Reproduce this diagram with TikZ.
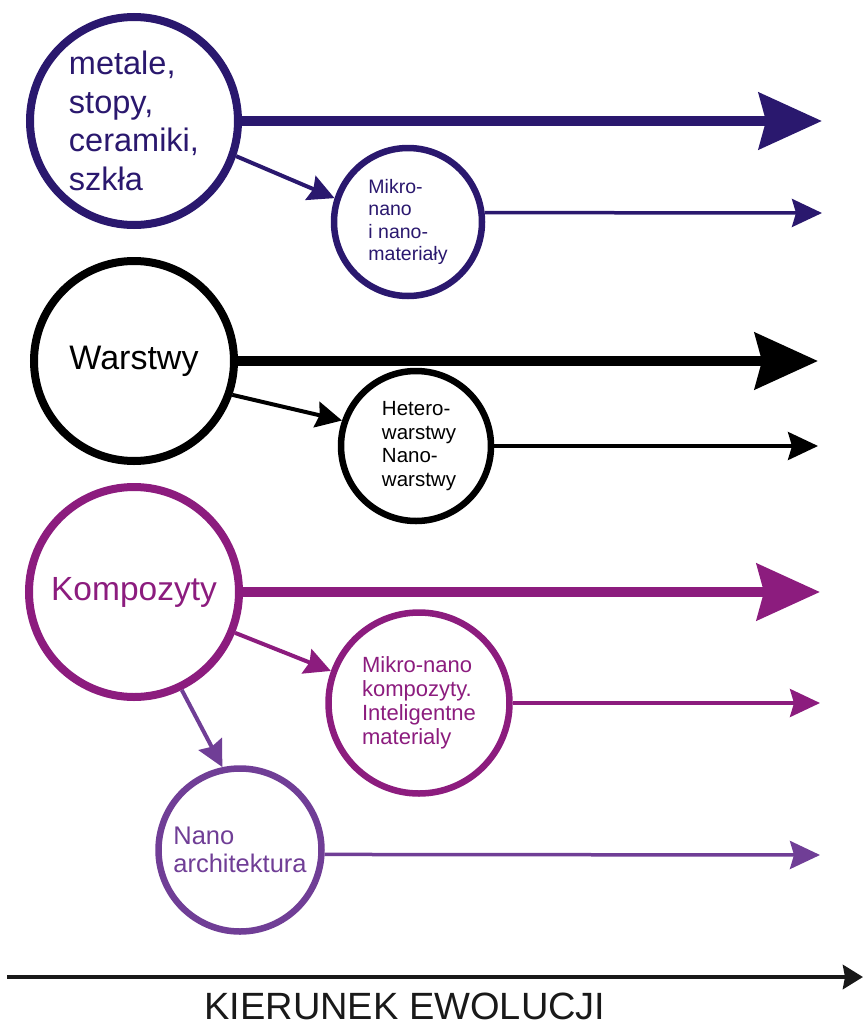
\documentclass[tikz,border=0pt]{standalone}
\usepackage{fontspec}
\setmainfont{Liberation Sans}
\usetikzlibrary{arrows.meta}
\definecolor{navy}{RGB}{42,24,110}
\definecolor{purp}{RGB}{140,28,126}
\definecolor{viol}{RGB}{112,62,150}
\tikzset{
  bigc/.style={circle,line width=8pt,inner sep=0pt,align=left,fill=white},
  smallc/.style={circle,line width=6.5pt,inner sep=0pt,align=left,fill=white},
  mainarr/.style={line width=10pt,-{Stealth[length=63pt,width=56pt,inset=7pt]}},
  subarr/.style={line width=3.5pt,-{Stealth[length=30pt,width=28pt,inset=4pt]}},
  conn/.style={line width=4pt,-{Stealth[length=26pt,width=26pt,inset=3pt]}},
}
\begin{document}
\begin{tikzpicture}[x=1pt,y=-1pt]
\useasboundingbox (0,0) rectangle (863,1028);
% group 1
\node[bigc,draw=navy,text=navy,minimum size=208pt,font=\fontsize{32.5}{38.5}\selectfont] (c1) at (134,121) {metale,\\stopy,\\ceramiki,\\szkła};
\node[smallc,draw=navy,text=navy,minimum size=148pt,font=\fontsize{19.5}{22.5}\selectfont] (c1s) at (408,222) {Mikro-\\nano\\i nano-\\materiały};
\coordinate (e1) at (822,121);
\coordinate (e1s) at (822,213);
\draw[mainarr,navy] (c1.east) -- (e1);
\draw[subarr,navy] (c1s.7) -- (e1s);
\draw[conn,navy] (c1.-19) -- (c1s.162);
% group 2
\node[bigc,draw=black,minimum size=200pt,font=\fontsize{34}{40}\selectfont] (c2) at (134,361) {Warstwy};
\node[smallc,draw=black,minimum size=150pt,font=\fontsize{20.5}{23.5}\selectfont] (c2s) at (416,446) {\hspace*{6pt}Hetero-\\\hspace*{6pt}warstwy\\\hspace*{6pt}Nano-\\\hspace*{6pt}warstwy};
\coordinate (e2) at (818,361);
\coordinate (e2s) at (818,446);
\draw[mainarr,black] (c2.east) -- (e2);
\draw[subarr,black] (c2s.east) -- (e2s);
\draw[conn,black] (c2.-19) -- (c2s.161);
% group 3
\node[bigc,draw=purp,text=purp,minimum size=210pt,font=\fontsize{33.5}{40}\selectfont] (c3) at (134,592) {Kompozyty};
\node[smallc,draw=purp,text=purp,minimum size=181pt,font=\fontsize{22}{24}\selectfont] (c3s) at (419,703) {Mikro-nano\\kompozyty.\\Inteligentne\\materialy};
\coordinate (e3) at (820,592);
\coordinate (e3s) at (820,703);
\draw[mainarr,purp] (c3.east) -- (e3);
\draw[subarr,purp] (c3s.east) -- (e3s);
\draw[conn,purp] (c3.-22) -- (c3s.160);
% group 4
\node[smallc,draw=viol,text=viol,minimum size=163pt,font=\fontsize{25.5}{28}\selectfont] (c4) at (240,850) {Nano\\architektura};
\coordinate (e4) at (820,855);
\draw[subarr,viol] (c4.-3.5) -- (e4);
\draw[conn,viol] (c3.-64) -- (c4.102);
% axis
\coordinate (a0) at (7,977);
\coordinate (a1) at (863,977);
\draw[line width=4.5pt,-{Stealth[length=20pt,width=24pt,inset=2pt]},black!90] (a0) -- (a1);
\node[anchor=base,inner sep=0pt,font=\fontsize{38}{44}\selectfont,text=black!90] (lab) at (405,1019) {KIERUNEK EWOLUCJI};
\end{tikzpicture}
\end{document}
